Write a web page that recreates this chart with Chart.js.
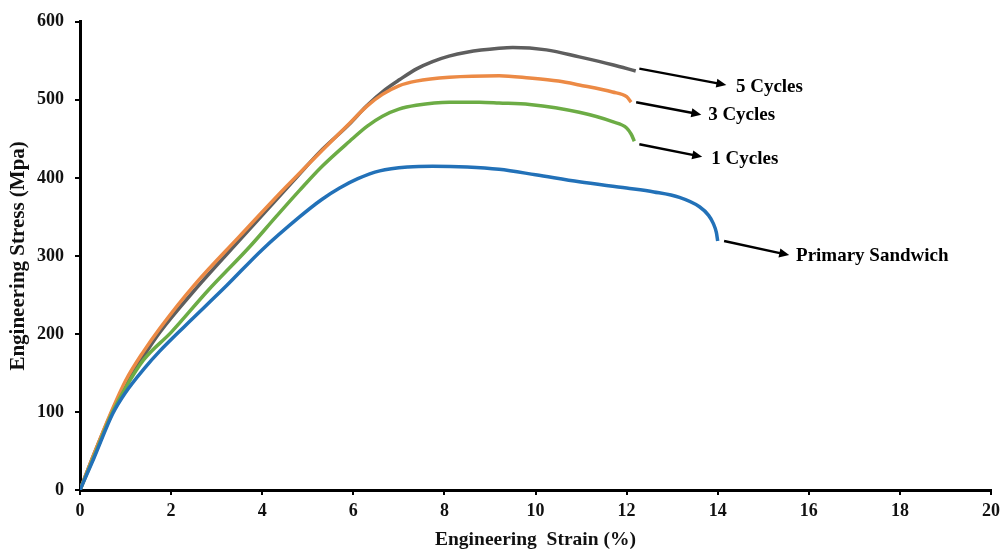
<!DOCTYPE html>
<html>
<head>
<meta charset="utf-8">
<script src="https://cdn.jsdelivr.net/npm/chart.js@4/dist/chart.umd.min.js"></script>
<style>
  html, body { margin: 0; padding: 0; background: #fff; }
  #wrap { width: 1006px; height: 556px; }
</style>
</head>
<body>
<div id="wrap"><canvas id="stressChart"></canvas></div>
<script>
// strain (%) / stress (MPa)
var cycles5Strain = [0, 0.3, 0.7, 1.0, 1.4, 1.75, 2.5, 3.5, 4.82, 5.26, 5.9, 6.29, 6.7, 7.02, 7.4, 7.74, 8.1, 8.49, 9.2, 9.5, 10.24, 10.96, 11.69, 12.2];
var cycles5Stress = [0, 45, 100, 135, 172, 202, 255, 320, 405, 433, 468, 492, 513, 526, 540, 549, 556, 561, 566, 567, 564, 555, 545, 537];

var cycles3Strain = [0, 0.3, 0.7, 1.0, 1.4, 1.75, 2.5, 3.5, 4.5, 5.26, 5.92, 6.3, 6.64, 7.0, 7.38, 8.11, 9.2, 9.87, 10.5, 10.96, 11.69, 12.0, 12.1];
var cycles3Stress = [0, 45, 102, 140, 178, 207, 262, 325, 387, 432, 470, 492, 507, 518, 524, 529, 531, 528, 524, 519, 510, 504, 497];

var cycles1Strain = [0, 0.3, 0.7, 1.0, 1.4, 2.0, 2.8, 3.73, 4.3, 4.82, 5.3, 5.92, 6.3, 6.64, 7.0, 7.38, 8.11, 8.77, 9.2, 9.87, 10.96, 11.69, 12.0, 12.1, 12.17];
var cycles1Stress = [0, 42, 98, 131, 167, 202, 255, 312, 350, 384, 414, 447, 466, 479, 488, 493, 497, 497, 496, 494, 484, 472, 464, 456, 447];

var primaryStrain = [0, 0.3, 0.72, 1.0, 1.4, 1.75, 2.3, 3.22, 4.0, 4.82, 5.3, 5.7, 6.1, 6.58, 7.2, 7.74, 8.5, 9.2, 10.0, 10.96, 12.0, 12.6, 13.16, 13.6, 13.8, 13.9, 13.97, 14.0];
var primaryStress = [0, 40, 98, 125, 155, 178, 210, 262, 308, 350, 372, 387, 399, 409, 414, 415, 414, 411, 404, 395, 387, 382, 375, 363, 352, 342, 330, 319];

// callout arrows: [fromX, fromY, toX, toY] in data units, label text
var calloutLabels = ['5 Cycles', '3 Cycles', '1 Cycles', 'Primary Sandwich'];
var calloutArrows = [
  [12.28, 540, 14.19, 519],
  [12.21, 497, 13.64, 481],
  [12.28, 443, 13.66, 427],
  [14.14, 319, 15.57, 301]
];
var calloutTextPos = [[14.4, 516], [13.79, 481], [13.86, 424], [15.72, 300]];

function toPoints(xs, ys) {
  return xs.map(function(x, i) { return { x: x, y: ys[i] }; });
}

var fontFamily = '"Liberation Serif", "Times New Roman", serif';

// draws the arrows and labels next to the curve ends
var calloutPlugin = {
  id: 'callouts',
  afterDatasetsDraw: function(chart) {
    var ctx = chart.ctx;
    var xs = chart.scales.x, ys = chart.scales.y;
    ctx.save();
    ctx.strokeStyle = '#000';
    ctx.fillStyle = '#000';
    ctx.lineWidth = 2.5;
    calloutArrows.forEach(function(a) {
      var x1 = xs.getPixelForValue(a[0]), y1 = ys.getPixelForValue(a[1]);
      var x2 = xs.getPixelForValue(a[2]), y2 = ys.getPixelForValue(a[3]);
      var ang = Math.atan2(y2 - y1, x2 - x1);
      ctx.beginPath();
      ctx.moveTo(x1, y1);
      ctx.lineTo(x2 - 6 * Math.cos(ang), y2 - 6 * Math.sin(ang));
      ctx.stroke();
      ctx.beginPath();
      ctx.moveTo(x2, y2);
      ctx.lineTo(x2 - 10 * Math.cos(ang) + 4.5 * Math.sin(ang), y2 - 10 * Math.sin(ang) - 4.5 * Math.cos(ang));
      ctx.lineTo(x2 - 10 * Math.cos(ang) - 4.5 * Math.sin(ang), y2 - 10 * Math.sin(ang) + 4.5 * Math.cos(ang));
      ctx.closePath();
      ctx.fill();
    });
    ctx.font = 'bold 19px ' + fontFamily;
    ctx.textBaseline = 'middle';
    ctx.textAlign = 'left';
    calloutLabels.forEach(function(txt, i) {
      var p = calloutTextPos[i];
      ctx.fillText(txt, xs.getPixelForValue(p[0]), ys.getPixelForValue(p[1]));
    });
    ctx.restore();
  }
};

function makeSet(label, xs, ys, color) {
  return {
    label: label,
    data: toPoints(xs, ys),
    borderColor: color,
    backgroundColor: color,
    borderWidth: 3.5,
    pointRadius: 0,
    cubicInterpolationMode: 'monotone',
    fill: false
  };
}

var chartCtx = document.getElementById('stressChart').getContext('2d');
var stressChart = new Chart(chartCtx, {
  type: 'line',
  data: {
    datasets: [
      makeSet('Primary Sandwich', primaryStrain, primaryStress, '#2271b8'),
      makeSet('1 Cycles', cycles1Strain, cycles1Stress, '#6cac45'),
      makeSet('3 Cycles', cycles3Strain, cycles3Stress, '#ec8a45'),
      makeSet('5 Cycles', cycles5Strain, cycles5Stress, '#5e5e5e')
    ]
  },
  options: {
    responsive: true,
    maintainAspectRatio: false,
    animation: false,
    layout: { padding: { top: 17, right: 14, left: 0, bottom: 0 } },
    plugins: {
      legend: { display: false },
      tooltip: { enabled: false }
    },
    scales: {
      x: {
        type: 'linear',
        min: 0,
        max: 20,
        afterFit: function(scale) { scale.height = 66; },
        ticks: {
          stepSize: 2,
          color: '#111',
          padding: 6,
          font: { family: fontFamily, size: 18, weight: 'bold' }
        },
        grid: { display: true, drawOnChartArea: false, drawTicks: true, tickLength: 5, color: '#000', lineWidth: 2 },
        border: { display: true, color: '#000', width: 3 },
        title: {
          display: true,
          text: 'Engineering  Strain (%)',
          color: '#111',
          padding: { top: 4, bottom: 4 },
          font: { family: fontFamily, size: 19.5, weight: 'bold' }
        }
      },
      y: {
        type: 'linear',
        min: 0,
        max: 600,
        afterFit: function(scale) { scale.width = 80; },
        ticks: {
          stepSize: 100,
          color: '#111',
          padding: 11,
          font: { family: fontFamily, size: 18, weight: 'bold' }
        },
        grid: { display: true, drawOnChartArea: false, drawTicks: true, tickLength: 5, color: '#000', lineWidth: 2 },
        border: { display: true, color: '#000', width: 3 },
        title: {
          display: true,
          text: 'Engineering Stress (Mpa)',
          color: '#111',
          padding: { top: 6, bottom: 4 },
          font: { family: fontFamily, size: 21, weight: 'bold' }
        }
      }
    }
  },
  plugins: [calloutPlugin]
});
</script>
</body>
</html>
